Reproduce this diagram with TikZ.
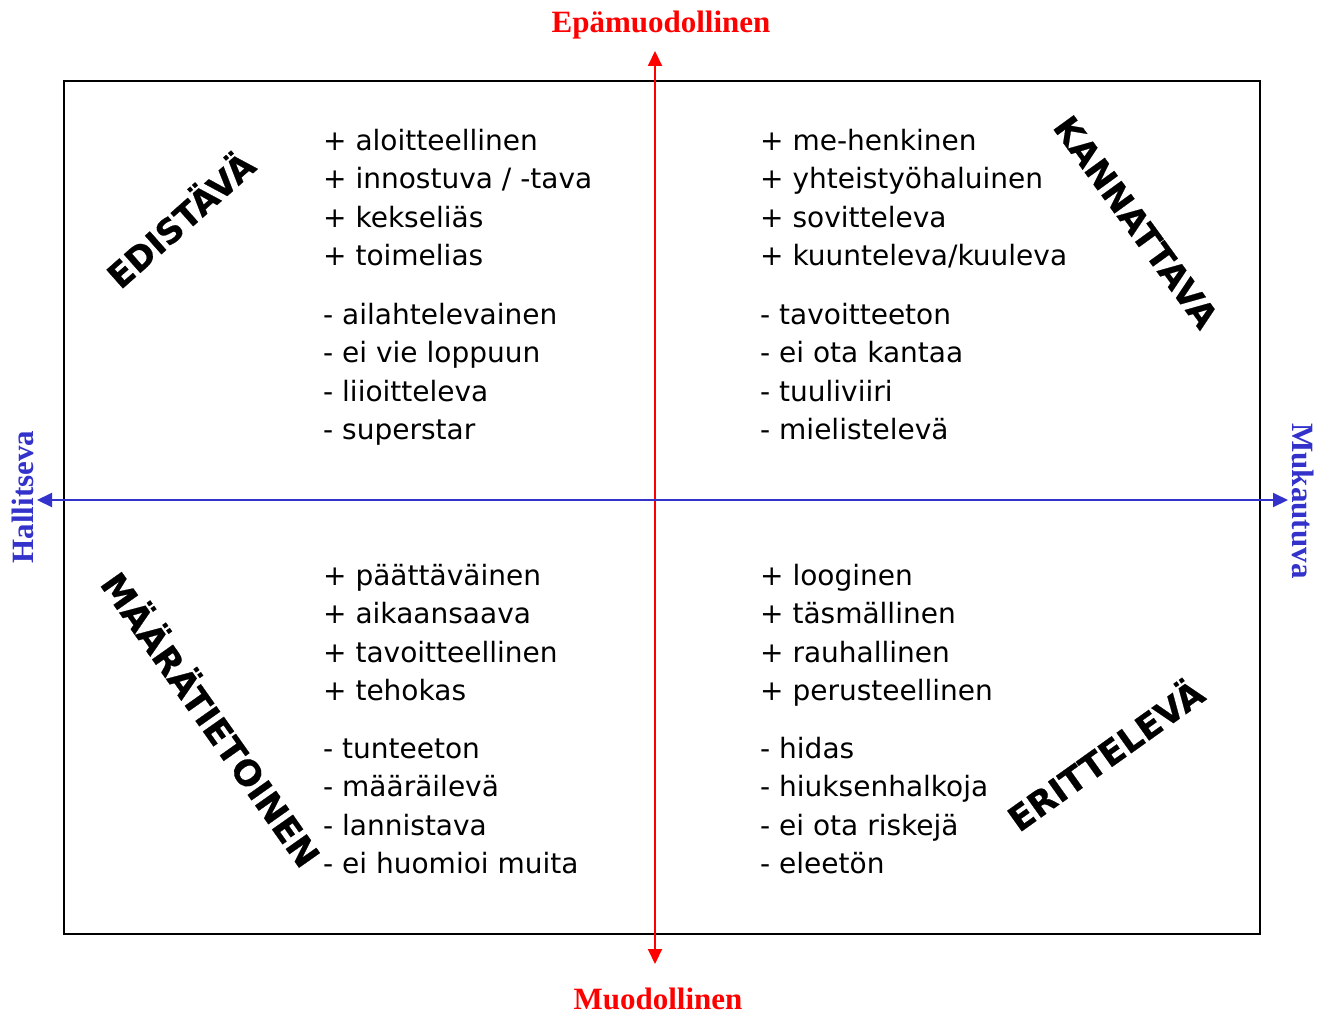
\documentclass[tikz,border=0pt]{standalone}
\usepackage{fontspec}
\setmainfont{DejaVu Sans}[BoldFeatures={FakeBold=0.6}]
\newfontfamily\axisfont{Liberation Serif}
\usetikzlibrary{arrows.meta}
\definecolor{axred}{RGB}{255,0,0}
\definecolor{axblue}{RGB}{51,51,204}
\begin{document}
\begin{tikzpicture}[x=1pt,y=-1pt,
  item/.style={anchor=base west,inner sep=0pt,font=\fontsize{28}{33}\selectfont},
  quad/.style={inner sep=0pt,font=\fontsize{34}{40}\selectfont\bfseries},
  axlab/.style={inner sep=0pt,font=\axisfont\bfseries\fontsize{31}{36}\selectfont},
  axtip/.style={{Triangle[length=15pt,width=14pt]}-{Triangle[length=15pt,width=14pt]}, line width=2pt}]
\useasboundingbox (0,0) rectangle (1330,1014);
\draw[line width=2pt] (64,81) rectangle (1260,934);
% axes
\coordinate (vtop) at (655,51);
\coordinate (vbot) at (655,964);
\coordinate (hl) at (37,500);
\coordinate (hr) at (1288,500);
\draw[axtip, axred] (vbot) -- (vtop);
\draw[axtip, axblue] (hl) -- (hr);
% axis labels
\node[axlab, text=axred, anchor=base] (epa) at (661,33) {Epämuodollinen};
\node[axlab, text=axred, anchor=base] (muo) at (658,1009) {Muodollinen};
\node[axlab, text=axblue, anchor=base, rotate=90] (hal) at (33,497) {Hallitseva};
\node[axlab, text=axblue, anchor=base, rotate=-90] (muk) at (1292,501) {Mukautuva};
% quadrant names
\node[quad, rotate=41.5] (edi) at (179,218) {EDISTÄVÄ};
\node[quad, rotate=-54] (kan) at (1136,222) {KANNATTAVA};
\node[quad, rotate=-54.8, font=\fontsize{35}{40}\selectfont\bfseries] (maa) at (213,718) {MÄÄRÄTIETOINEN};
\node[quad, rotate=35.5, font=\fontsize{34.5}{40}\selectfont\bfseries] (eri) at (1104,753) {ERITTELEVÄ};
% lists
\foreach \t [count=\i] in {+ aloitteellinen, + innostuva / -tava, + kekseliäs, + toimelias}
  \node[item] (tlp\i) at (323,{150+38.5*(\i-1)}) {\t};
\foreach \t [count=\i] in {- ailahtelevainen, - ei vie loppuun, - liioitteleva, - superstar}
  \node[item] (tlm\i) at (323,{324+38.5*(\i-1)}) {\t};
\foreach \t [count=\i] in {+ me-henkinen, + yhteistyöhaluinen, + sovitteleva, + kuunteleva/kuuleva}
  \node[item] (trp\i) at (760,{150+38.5*(\i-1)}) {\t};
\foreach \t [count=\i] in {- tavoitteeton, - ei ota kantaa, - tuuliviiri, - mielistelevä}
  \node[item] (trm\i) at (760,{324+38.5*(\i-1)}) {\t};
\foreach \t [count=\i] in {+ päättäväinen, + aikaansaava, + tavoitteellinen, + tehokas}
  \node[item] (blp\i) at (323,{585+38.5*(\i-1)}) {\t};
\foreach \t [count=\i] in {- tunteeton, - määräilevä, - lannistava, - ei huomioi muita}
  \node[item] (blm\i) at (323,{758+38.5*(\i-1)}) {\t};
\foreach \t [count=\i] in {+ looginen, + täsmällinen, + rauhallinen, + perusteellinen}
  \node[item] (brp\i) at (760,{585+38.5*(\i-1)}) {\t};
\foreach \t [count=\i] in {- hidas, - hiuksenhalkoja, - ei ota riskejä, - eleetön}
  \node[item] (brm\i) at (760,{758+38.5*(\i-1)}) {\t};
\end{tikzpicture}
\end{document}
